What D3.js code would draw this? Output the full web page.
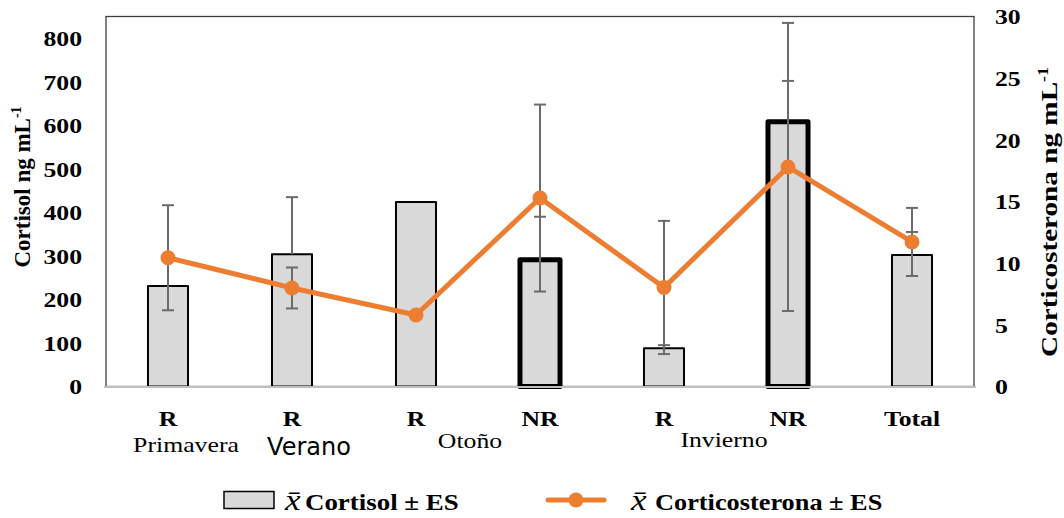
<!DOCTYPE html>
<html>
<head>
<meta charset="utf-8">
<script src="https://cdn.jsdelivr.net/npm/d3@7"></script>
<style>
  html, body { margin: 0; padding: 0; background: #fff; }
  svg { display: block; }
</style>
</head>
<body>
<svg id="chart" width="1064" height="518"></svg>
<script>
// Group labels under each bar
const categories = ["R", "R", "R", "NR", "R", "NR", "Total"];
// Mean cortisol (ng/mL) per group, left axis
const cortisol = [231, 304, 424, 291, 88, 608, 302];
// Standard error of cortisol (upper whisker only); null = not reported
const cortisolSE = [null, 131, null, 99, 7, 94, 53];
// Mean corticosterone (ng/mL) per group, right axis
const corticosterona = [10.44, 7.99, 5.80, 15.28, 8.03, 17.80, 11.72];
// Standard error of corticosterone
const corticosteronaSE = [4.26, 1.66, null, 7.58, 5.4, 11.68, 2.76];
// Non-responder groups get a heavy outline
const nonResponder = [false, false, false, true, false, true, false];
// Season captions and the groups each one spans
const seasons = ["Primavera", "Verano", "Otoño", "Invierno"];
const seasonGroups = [[0], [1], [2, 3], [4, 5]];
// Axis ticks
const leftTicks = [0, 100, 200, 300, 400, 500, 600, 700, 800];
const rightTicks = [0, 5, 10, 15, 20, 25, 30];

const svg = d3.select("#chart");
const serif = "'Liberation Serif', 'Times New Roman', serif";
const SX = 1.17; // horizontal glyph stretch of the labels

const plot = { left: 106, right: 974, top: 16.5, bottom: 386.5 };
const orange = "#ed7d31";
const errGray = "#6b6b6b";

const x = d3.scaleBand()
  .domain(d3.range(categories.length))
  .range([plot.left, plot.right])
  .paddingInner(0.677)
  .paddingOuter(0.3385);
const yL = d3.scaleLinear().domain([0, 850]).range([plot.bottom, plot.top]);
const yR = d3.scaleLinear().domain([0, 30]).range([plot.bottom, plot.top]);
const cx = i => x(i) + x.bandwidth() / 2;

// Stretched text helper
function label(parent, px, py, str, o = {}) {
  const g = parent.append("g")
    .attr("transform", `translate(${px},${py})${o.rotate ? ` rotate(${o.rotate})` : ""} scale(${o.sx ?? SX},1)`);
  const t = g.append("text")
    .attr("text-anchor", o.anchor || "middle")
    .attr("font-family", o.family || serif)
    .attr("font-size", o.size || 22)
    .attr("font-weight", o.weight || "normal")
    .attr("fill", "#000")
    .text(str);
  return t;
}

// Plot frame
svg.append("rect")
  .attr("x", plot.left).attr("y", plot.top)
  .attr("width", plot.right - plot.left).attr("height", plot.bottom - plot.top)
  .attr("fill", "none").attr("stroke", "#3f3f3f").attr("stroke-width", 1.3);

// Bars
svg.append("g").selectAll("rect")
  .data(cortisol)
  .join("rect")
  .attr("x", (d, i) => x(i))
  .attr("y", d => yL(d))
  .attr("width", x.bandwidth())
  .attr("height", d => yL(0) - yL(d))
  .attr("fill", "#d9d9d9")
  .attr("stroke", "#000")
  .attr("stroke-linejoin", "round")
  .attr("stroke-width", (d, i) => nonResponder[i] ? 5 : 2);

// Category baseline
svg.append("line")
  .attr("x1", plot.left - 2).attr("x2", plot.right + 2)
  .attr("y1", yL(0) + 0.5).attr("y2", yL(0) + 0.5)
  .attr("stroke", "#bfbfbf").attr("stroke-width", 2);

// Error whiskers
function whisker(g, xc, y1, y2, caps) {
  g.append("line").attr("x1", xc).attr("x2", xc).attr("y1", y1).attr("y2", y2);
  caps.forEach(yc => g.append("line").attr("x1", xc - 6).attr("x2", xc + 6).attr("y1", yc).attr("y2", yc));
}
const errG = svg.append("g").attr("stroke", errGray).attr("stroke-width", 2);
cortisol.forEach((v, i) => {
  if (cortisolSE[i] == null) return;
  whisker(errG, cx(i), yL(v), yL(v + cortisolSE[i]), [yL(v + cortisolSE[i])]);
});
corticosterona.forEach((v, i) => {
  if (corticosteronaSE[i] == null) return;
  const lo = yR(v - corticosteronaSE[i]), hi = yR(v + corticosteronaSE[i]);
  whisker(errG, cx(i), lo, hi, [lo, hi]);
});

// Corticosterone line and markers
const line = d3.line().x((d, i) => cx(i)).y(d => yR(d));
svg.append("path")
  .datum(corticosterona)
  .attr("d", line)
  .attr("fill", "none").attr("stroke", orange).attr("stroke-width", 5)
  .attr("stroke-linejoin", "round");
svg.append("g").selectAll("circle")
  .data(corticosterona)
  .join("circle")
  .attr("cx", (d, i) => cx(i)).attr("cy", d => yR(d))
  .attr("r", 7.5).attr("fill", orange);

// Left axis
const axL = svg.append("g").attr("transform", `translate(${plot.left},0)`)
  .call(d3.axisLeft(yL).tickValues(leftTicks).tickSize(0).tickFormat(d3.format("d")));
axL.select(".domain").remove();
axL.selectAll("text")
  .attr("x", -24 / SX).attr("dy", "0.33em")
  .attr("transform", `scale(${SX},1)`)
  .attr("font-family", serif).attr("font-size", 22).attr("font-weight", "bold").attr("fill", "#000");

// Right axis
const axR = svg.append("g").attr("transform", `translate(${plot.right},0)`)
  .call(d3.axisRight(yR).tickValues(rightTicks).tickSize(0).tickFormat(d3.format("d")));
axR.select(".domain").remove();
axR.selectAll("text")
  .attr("x", 21 / SX).attr("dy", "0.33em")
  .attr("transform", `scale(${SX},1)`)
  .attr("font-family", serif).attr("font-size", 22).attr("font-weight", "bold").attr("fill", "#000");

// Axis titles
const tL = label(svg, 30, 187, "Cortisol ng mL", { rotate: -90, sx: 1, size: 23, weight: "bold" });
tL.append("tspan").attr("font-size", 14).attr("dy", -9).text("-1");
const tR = label(svg, 1057, 212, "Corticosterona ng mL", { rotate: -90, sx: 1.27, size: 23, weight: "bold" });
tR.append("tspan").attr("font-size", 14).attr("dy", -9).text("-1");

// Group labels
categories.forEach((c, i) => label(svg, cx(i), 426, c, { weight: "bold", size: 22 }));

// Season captions
const seasonShift = [18, 17, -8, -2];
const seasonBase = [452, 455, 448, 447];
seasons.forEach((s, k) => {
  const xc = d3.mean(seasonGroups[k], cx) + seasonShift[k];
  if (s === "Verano") {
    label(svg, xc, seasonBase[k], s, { sx: 1, size: 24, family: "'DejaVu Sans', sans-serif" });
  } else {
    label(svg, xc, seasonBase[k], s, { size: 22 });
  }
});

// Legend
const leg = svg.append("g");
leg.append("rect").attr("x", 224).attr("y", 491.5).attr("width", 50).attr("height", 17)
  .attr("fill", "#d9d9d9").attr("stroke", "#000").attr("stroke-width", 1.5);
label(leg, 285, 510, "x\u0304", { anchor: "start", size: 30 }).attr("font-style", "italic");
label(leg, 305, 510, "Cortisol ± ES", { anchor: "start", size: 23, weight: "bold" });
leg.append("line").attr("x1", 548).attr("x2", 604).attr("y1", 500).attr("y2", 500)
  .attr("stroke", orange).attr("stroke-width", 5).attr("stroke-linecap", "round");
leg.append("circle").attr("cx", 576).attr("cy", 500).attr("r", 7.5).attr("fill", orange);
label(leg, 631, 510, "x\u0304", { anchor: "start", size: 30 }).attr("font-style", "italic");
label(leg, 655, 510, "Corticosterona ± ES", { anchor: "start", size: 22.5, weight: "bold" });
</script>
</body>
</html>
